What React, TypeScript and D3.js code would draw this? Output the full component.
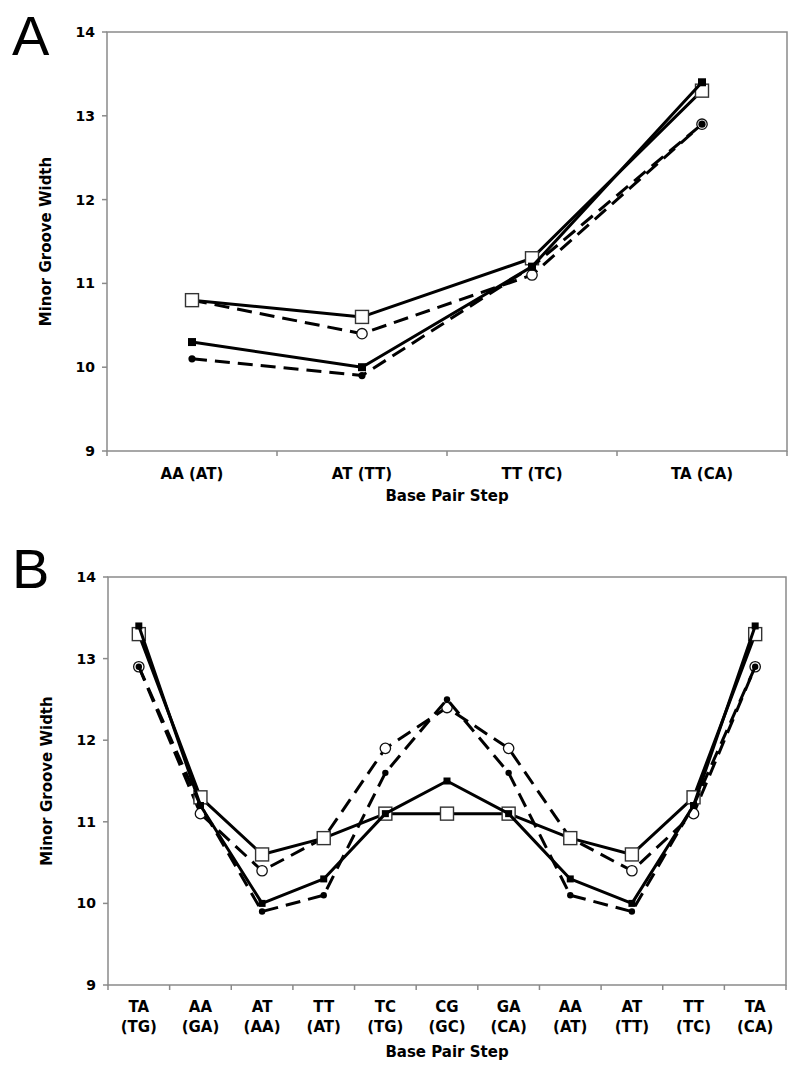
import React from "react";
import * as d3 from "d3";

// ---------- Data ----------
const yTicks = [9, 10, 11, 12, 13, 14];

const catsA: string[][] = [["AA (AT)"], ["AT (TT)"], ["TT (TC)"], ["TA (CA)"]];
const A_openCircle = [10.8, 10.4, 11.1, 12.9];
const A_openSquare = [10.8, 10.6, 11.3, 13.3];
const A_filledCircle = [10.1, 9.9, 11.2, 12.9];
const A_filledSquare = [10.3, 10.0, 11.2, 13.4];

const catsB: string[][] = [
  ["TA", "(TG)"], ["AA", "(GA)"], ["AT", "(AA)"], ["TT", "(AT)"], ["TC", "(TG)"],
  ["CG", "(GC)"], ["GA", "(CA)"], ["AA", "(AT)"], ["AT", "(TT)"], ["TT", "(TC)"], ["TA", "(CA)"],
];
const B_openCircle = [12.9, 11.1, 10.4, 10.8, 11.9, 12.4, 11.9, 10.8, 10.4, 11.1, 12.9];
const B_openSquare = [13.3, 11.3, 10.6, 10.8, 11.1, 11.1, 11.1, 10.8, 10.6, 11.3, 13.3];
const B_filledCircle = [12.9, 11.2, 9.9, 10.1, 11.6, 12.5, 11.6, 10.1, 9.9, 11.2, 12.9];
const B_filledSquare = [13.4, 11.2, 10.0, 10.3, 11.1, 11.5, 11.1, 10.3, 10.0, 11.2, 13.4];

type Marker = "openCircle" | "openSquare" | "filledCircle" | "filledSquare";
interface Series { values: number[]; marker: Marker; dashed: boolean }

const seriesA: Series[] = [
  { values: A_openCircle, marker: "openCircle", dashed: true },
  { values: A_openSquare, marker: "openSquare", dashed: false },
  { values: A_filledCircle, marker: "filledCircle", dashed: true },
  { values: A_filledSquare, marker: "filledSquare", dashed: false },
];
const seriesB: Series[] = [
  { values: B_openCircle, marker: "openCircle", dashed: true },
  { values: B_openSquare, marker: "openSquare", dashed: false },
  { values: B_filledCircle, marker: "filledCircle", dashed: true },
  { values: B_filledSquare, marker: "filledSquare", dashed: false },
];

const FONT = "'DejaVu Sans', Verdana, sans-serif";
const AXIS = "#8a8a8a";

function MarkerShape({ type, x, y, big }: { type: Marker; x: number; y: number; big: boolean }) {
  if (type === "openSquare") {
    const s = 13;
    return <rect x={x - s / 2} y={y - s / 2} width={s} height={s} fill="#fff" stroke="#333" strokeWidth={1.4} />;
  }
  if (type === "filledSquare") {
    const s = big ? 8 : 7;
    return <rect x={x - s / 2} y={y - s / 2} width={s} height={s} fill="#000" />;
  }
  if (type === "openCircle") {
    return <circle cx={x} cy={y} r={5.2} fill="#fff" stroke="#111" strokeWidth={1.3} />;
  }
  return <circle cx={x} cy={y} r={big ? 3.6 : 3.2} fill="#000" />;
}

interface PanelProps {
  letter: string;
  cats: string[][];
  series: Series[];
  left: number; top: number; right: number; bottom: number;
  letterY: number;
  big: boolean;
}

function Panel({ letter, cats, series, left, top, right, bottom, letterY, big }: PanelProps) {
  const x = d3.scaleBand<number>().domain(cats.map((_, i) => i)).range([left, right]).paddingInner(0).paddingOuter(0);
  const y = d3.scaleLinear().domain([9, 14]).range([bottom, top]);
  const cx = (i: number) => (x(i) as number) + x.bandwidth() / 2;
  const line = d3.line<number>().x((_, i) => cx(i)).y((v) => y(v));
  const boundaries = d3.range(cats.length + 1).map((i) => left + i * x.bandwidth());
  const multi = cats[0].length > 1;

  return (
    <g>
      <text x={12} y={letterY} fontFamily="'Liberation Sans', Arial, sans-serif" fontSize={56} fill="#000">{letter}</text>
      <rect x={left} y={top} width={right - left} height={bottom - top} fill="none" stroke={AXIS} strokeWidth={1.5} />
      {yTicks.map((t) => (
        <g key={t}>
          <line x1={left - 5} x2={left} y1={y(t)} y2={y(t)} stroke={AXIS} strokeWidth={1.5} />
          <text x={left - 12} y={y(t)} dy="0.36em" textAnchor="end" fontFamily={FONT} fontWeight="bold" fontSize={14} fill="#000">{t}</text>
        </g>
      ))}
      {boundaries.map((b, i) => (
        <line key={i} x1={b} x2={b} y1={bottom} y2={bottom + 5} stroke={AXIS} strokeWidth={1.5} />
      ))}
      {cats.map((c, i) => (
        <text key={i} x={cx(i)} y={bottom + (multi ? 27 : 28)} textAnchor="middle" fontFamily={FONT} fontWeight="bold" fontSize={15} fill="#000">
          {c.map((s, j) => (
            <tspan key={j} x={cx(i)} dy={j === 0 ? 0 : 20}>{s}</tspan>
          ))}
        </text>
      ))}
      <text x={(left + right) / 2} y={bottom + (multi ? 72 : 50)} textAnchor="middle" fontFamily={FONT} fontWeight="bold" fontSize={15} fill="#000">Base Pair Step</text>
      <text transform={`translate(${left - 56},${(top + bottom) / 2}) rotate(-90)`} textAnchor="middle" fontFamily={FONT} fontWeight="bold" fontSize={15} fill="#000">Minor Groove Width</text>
      {series.map((s, k) => (
        <g key={k}>
          <path d={line(s.values) || ""} fill="none" stroke="#000" strokeWidth={3} strokeDasharray={s.dashed ? "15,8" : undefined} strokeLinejoin="round" />
          {s.values.map((v, i) => (
            <MarkerShape key={i} type={s.marker} x={cx(i)} y={y(v)} big={big} />
          ))}
        </g>
      ))}
    </g>
  );
}

export default function App() {
  return (
    <svg width={800} height={1071} style={{ position: "absolute", left: 0, top: 0, display: "block", background: "#fff" }}>
      <rect x={0} y={0} width={800} height={1071} fill="#fff" />
      <Panel letter="A" cats={catsA} series={seriesA} left={107} top={32} right={787} bottom={451} letterY={55} big={true} />
      <Panel letter="B" cats={catsB} series={seriesB} left={108} top={577} right={786} bottom={985} letterY={588} big={false} />
    </svg>
  );
}
